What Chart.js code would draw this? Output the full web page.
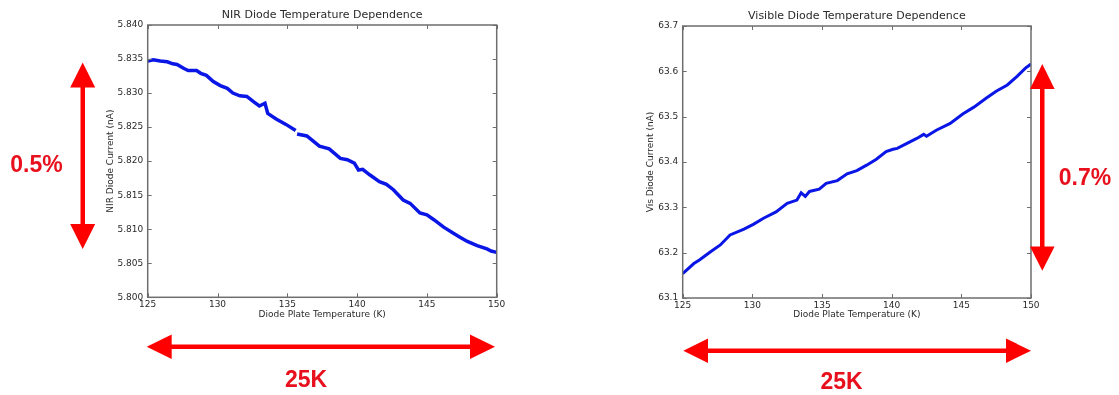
<!DOCTYPE html>
<html>
<head>
<meta charset="utf-8">
<script src="https://cdn.jsdelivr.net/npm/chart.js@4.4.1/dist/chart.umd.min.js"></script>
<style>
  html, body { margin: 0; padding: 0; background: #fff; }
  body { width: 1119px; height: 395px; position: relative; overflow: hidden; }
  .plot { position: absolute; top: 0; }
  #nirBox { left: 95px; width: 430px; height: 330px; }
  #visBox { left: 620px; width: 440px; height: 330px; }
  svg { position: absolute; left: 0; top: 0; }
  .note { font-family: "Liberation Sans", Arial, sans-serif; font-weight: bold; font-size: 23px; fill: #e8101c; }
</style>
</head>
<body>
<div class="plot" id="nirBox"><canvas id="nirChart"></canvas></div>
<div class="plot" id="visBox"><canvas id="visChart"></canvas></div>

<svg width="1119" height="395" viewBox="0 0 1119 395">
  <g fill="#ff0000">
    <!-- NIR current span -->
    <rect x="80.5" y="85" width="4.5" height="141"/>
    <polygon points="82.7,62.5 70.2,87.5 95.2,87.5"/>
    <polygon points="82.7,249 70.2,224 95.2,224"/>
    <!-- NIR temperature span -->
    <rect x="170" y="344.5" width="302" height="4.5"/>
    <polygon points="146.7,346.7 171.7,334.5 171.7,359"/>
    <polygon points="495,346.7 470,334.5 470,359"/>
    <!-- Visible current span -->
    <rect x="1040" y="87" width="4.5" height="162"/>
    <polygon points="1042.3,64 1030,89 1054.6,89"/>
    <polygon points="1042.3,270.7 1030,246.5 1054.6,246.5"/>
    <!-- Visible temperature span -->
    <rect x="706" y="348.5" width="302" height="4.5"/>
    <polygon points="683.3,350.7 708,338.5 708,363"/>
    <polygon points="1031,350.7 1006,338.5 1006,363"/>
  </g>
  <text class="note" x="36.5" y="171.5" text-anchor="middle">0.5%</text>
  <text class="note" x="306" y="386.5" text-anchor="middle">25K</text>
  <text class="note" x="1085" y="185" text-anchor="middle">0.7%</text>
  <text class="note" x="841.5" y="389" text-anchor="middle">25K</text>
</svg>

<script>
// NIR diode: plate temperature (K) and current (nA); null marks a dropout in the log
const nirTemp = [125.0, 125.4, 125.9, 126.4, 126.8, 127.1, 127.6, 127.9, 128.5, 128.8,
  129.2, 129.7, 130.2, 130.7, 131.1, 131.6, 132.1, 132.6, 133.0, 133.4,
  133.6, 134.2, 134.9, 135.6, 135.65, 135.7, 136.4, 137.3, 138.0, 138.8,
  139.3, 139.8, 140.1, 140.4, 140.9, 141.6, 142.1, 142.6, 143.3, 143.8,
  144.5, 145.0, 145.5, 146.2, 146.9, 147.4, 147.9, 148.6, 149.3, 149.6, 150.0];
const nirCurrent = [5.8347, 5.8349, 5.8347, 5.8346, 5.8343, 5.8342, 5.8336, 5.8333, 5.8333, 5.8329,
  5.8326, 5.8317, 5.8311, 5.8307, 5.8300, 5.8296, 5.8295, 5.8287, 5.8281, 5.8285,
  5.8270, 5.8262, 5.8254, 5.8245, null, 5.8240, 5.8237, 5.8222, 5.8218, 5.8204,
  5.8202, 5.8197, 5.8187, 5.8188, 5.8180, 5.8170, 5.8166, 5.8158, 5.8143, 5.8138,
  5.8124, 5.8121, 5.8114, 5.8103, 5.8094, 5.8088, 5.8082, 5.8076, 5.8071, 5.8068, 5.8066];

// Visible diode: plate temperature (K) and current (nA)
const visTemp = [125.0, 125.8, 126.2, 127.0, 127.7, 128.4, 129.4, 130.1, 130.8, 131.7,
  132.5, 133.2, 133.5, 133.8, 134.1, 134.8, 135.3, 136.1, 136.8, 137.5,
  138.2, 138.9, 139.6, 140.1, 140.4, 141.1, 141.8, 142.3, 142.5, 143.2,
  144.2, 145.1, 145.9, 146.8, 147.5, 148.3, 149.0, 149.6, 150.0];
const visCurrent = [63.154, 63.176, 63.184, 63.202, 63.217, 63.239, 63.252, 63.263, 63.276, 63.290,
  63.309, 63.316, 63.332, 63.324, 63.335, 63.340, 63.353, 63.359, 63.374, 63.381,
  63.393, 63.406, 63.423, 63.428, 63.430, 63.441, 63.452, 63.461, 63.457, 63.470,
  63.485, 63.506, 63.521, 63.541, 63.556, 63.570, 63.589, 63.607, 63.616];

// Axis ranges and tick steps
const tempRange = [125, 150], tempStep = 5;
const nirRange = [5.800, 5.840], nirStep = 0.005;
const visRange = [63.1, 63.7], visStep = 0.1;

const TEXT = '#2a2a2a';
const FONT = 'DejaVu Sans';

// Box frame with inward ticks on all four sides
const frameTicks = {
  id: 'frameTicks',
  afterDatasetsDraw(chart) {
    const { ctx, chartArea: a, scales } = chart;
    const len = 4;
    ctx.save();
    ctx.strokeStyle = '#6e6e6e';
    ctx.lineWidth = 1;
    ctx.beginPath();
    scales.x.ticks.forEach(t => {
      const px = Math.round(scales.x.getPixelForValue(t.value)) + 0.5;
      ctx.moveTo(px, a.bottom); ctx.lineTo(px, a.bottom - len);
      ctx.moveTo(px, a.top); ctx.lineTo(px, a.top + len);
    });
    scales.y.ticks.forEach(t => {
      const py = Math.round(scales.y.getPixelForValue(t.value)) + 0.5;
      ctx.moveTo(a.left, py); ctx.lineTo(a.left + len, py);
      ctx.moveTo(a.right, py); ctx.lineTo(a.right - len, py);
    });
    ctx.stroke();
    ctx.lineWidth = 1.5;
    ctx.strokeRect(a.left, a.top, a.right - a.left, a.bottom - a.top);
    ctx.restore();
  }
};

function makeChart(id, temps, currents, yRange, yStep, digits, cfg) {
  const points = temps.map((t, i) => ({ x: t, y: currents[i] }));
  return new Chart(document.getElementById(id), {
    type: 'line',
    data: {
      datasets: [{
        data: points,
        borderColor: '#0a16e6',
        borderWidth: cfg.lineWidth,
        pointRadius: 0,
        tension: 0,
        spanGaps: false
      }]
    },
    options: {
      responsive: true,
      maintainAspectRatio: false,
      animation: false,
      layout: { padding: { left: 0, right: cfg.padRight, top: 0, bottom: 0 } },
      plugins: {
        legend: { display: false },
        tooltip: { enabled: false },
        title: {
          display: true,
          text: cfg.title,
          color: TEXT,
          fullSize: false,
          font: { family: FONT, size: 11, weight: 'normal', lineHeight: 1.2 },
          padding: { top: cfg.titleTop, bottom: cfg.areaTop - cfg.titleTop - 13.2 }
        }
      },
      scales: {
        x: {
          type: 'linear',
          min: tempRange[0], max: tempRange[1],
          grid: { display: false, drawTicks: false },
          border: { display: false },
          ticks: {
            stepSize: tempStep,
            padding: 2,
            color: TEXT,
            maxRotation: 0,
            font: { family: FONT, size: 9 },
            callback: v => String(v)
          },
          title: {
            display: true,
            text: 'Diode Plate Temperature (K)',
            color: TEXT,
            font: { family: FONT, size: 9 },
            padding: { top: 0, bottom: cfg.xTitleBottom }
          },
          afterFit(scale) { scale.height = cfg.xHeight; }
        },
        y: {
          type: 'linear',
          min: yRange[0], max: yRange[1],
          grid: { display: false, drawTicks: false },
          border: { display: false },
          ticks: {
            stepSize: yStep,
            padding: cfg.yTickPad,
            color: TEXT,
            font: { family: FONT, size: 9 },
            callback: v => Number(v).toFixed(digits)
          },
          title: {
            display: true,
            text: cfg.yTitle,
            color: TEXT,
            font: { family: FONT, size: 9 },
            padding: { top: cfg.yTitleLeft, bottom: 0 }
          },
          afterFit(scale) { scale.width = cfg.yWidth; }
        }
      }
    },
    plugins: [frameTicks]
  });
}

makeChart('nirChart', nirTemp, nirCurrent, nirRange, nirStep, 3, {
  title: 'NIR Diode Temperature Dependence',
  yTitle: 'NIR Diode Current (nA)',
  lineWidth: 3.5,
  padRight: 28.3,
  titleTop: 8.4,
  areaTop: 25,
  xHeight: 32.7,
  xTitleBottom: 10.3,
  yWidth: 52.7,
  yTickPad: 4.5,
  yTitleLeft: 10.6
});

makeChart('visChart', visTemp, visCurrent, visRange, visStep, 1, {
  title: 'Visible Diode Temperature Dependence',
  yTitle: 'Vis Diode Current (nA)',
  lineWidth: 3,
  padRight: 29,
  titleTop: 9.4,
  areaTop: 26,
  xHeight: 32,
  xTitleBottom: 9.6,
  yWidth: 62.7,
  yTickPad: 4.5,
  yTitleLeft: 25.6
});
</script>
</body>
</html>
